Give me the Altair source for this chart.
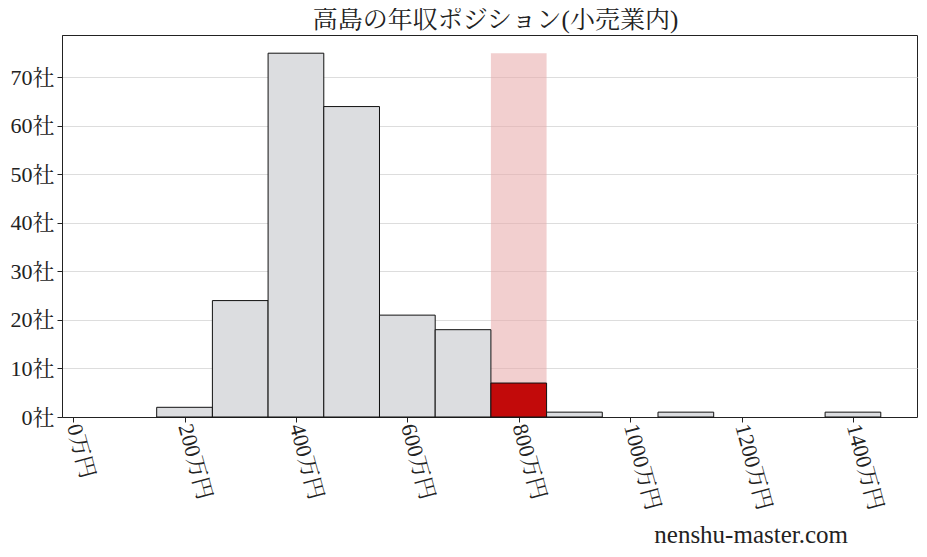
import altair as alt
import pandas as pd

# histogram bins (万円) and company counts
bin_lo = [150, 250, 350, 450, 550, 650, 750, 850, 1050, 1350]
bin_hi = [250, 350, 450, 550, 650, 750, 850, 950, 1150, 1450]
counts = [2, 24, 75, 64, 21, 18, 7, 1, 1, 1]
is_target = [False, False, False, False, False, False, True, False, False, False]

x_ticks = [0, 200, 400, 600, 800, 1000, 1200, 1400]
y_ticks = [0, 10, 20, 30, 40, 50, 60, 70]

span_lo, span_hi, span_top = 750, 850, 75

FONT = "Liberation Serif, Noto Serif CJK JP, Noto Sans CJK JP"

bars_df = pd.DataFrame({"lo": bin_lo, "hi": bin_hi, "n": counts,
                        "base": [0] * len(counts), "target": is_target})
span_df = pd.DataFrame({"lo": [span_lo], "hi": [span_hi], "top": [span_top], "base": [0]})

x_scale = alt.Scale(domain=[-20, 1515], nice=False, zero=False)
y_scale = alt.Scale(domain=[0, 78.75], nice=False)

x_axis = alt.Axis(
    values=x_ticks, labelExpr="datum.value + '万円'", labelAngle=75,
    labelAlign="left", labelBaseline="middle", labelFontSize=22,
    labelFont=FONT, labelColor="#222", grid=False, tickColor="#222",
    domainColor="#222", tickSize=5, labelPadding=2, title=None,
)
y_axis = alt.Axis(
    values=y_ticks, labelExpr="datum.value + '社'", labelFontSize=22,
    labelFont=FONT, labelColor="#222", gridColor="#dddddd", tickColor="#222",
    domainColor="#222", tickSize=5, labelPadding=3, title=None,
)

span = alt.Chart(span_df).mark_rect(color="#e8a8a8", opacity=0.55).encode(
    x=alt.X("lo:Q", scale=x_scale, axis=x_axis),
    x2="hi:Q",
    y=alt.Y("top:Q", scale=y_scale, axis=y_axis),
    y2="base:Q",
)

bars = alt.Chart(bars_df).mark_rect(stroke="#111", strokeWidth=1).encode(
    x=alt.X("lo:Q", scale=x_scale, axis=x_axis),
    x2="hi:Q",
    y=alt.Y("n:Q", scale=y_scale, axis=y_axis),
    y2="base:Q",
    color=alt.Color("target:N", scale=alt.Scale(domain=[False, True], range=["#dcdde0", "#c20a0a"]), legend=None),
)

mark = alt.Chart(pd.DataFrame({"t": ["nenshu-master.com"]})).mark_text(
    font=FONT, fontSize=25, align="right", baseline="alphabetic", color="#222"
).encode(text="t:N", x=alt.value(786), y=alt.value(508))

chart = alt.layer(span, bars, mark).properties(
    width=855, height=382,
    autosize=alt.AutoSizeParams(type="none"),
    padding={"left": 54, "top": 27, "right": 2, "bottom": 130},
    title=alt.TitleParams("高島の年収ポジション(小売業内)", font=FONT, fontSize=25,
                          fontWeight="normal", color="#222", offset=2, dx=6),
).configure_view(stroke="#222", strokeWidth=1)

chart.save("out.html", embed_options={"renderer": "svg", "actions": False})
